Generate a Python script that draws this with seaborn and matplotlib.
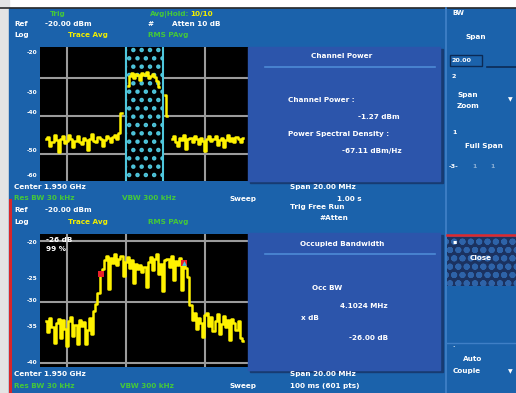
import numpy as np
import pandas as pd
import matplotlib
matplotlib.use("Agg")
import matplotlib.pyplot as plt
from matplotlib.patches import Rectangle
import seaborn as sns

nan = float("nan")

# ---------------------------------------------------------------------------
# Trace data: displayed level (dBm) per display bin, 100 bins across the span
# ---------------------------------------------------------------------------
ch_floor_low = [-46.2, -45.6, -47.9, -46.8, -45.1, -46.4, -49.6, -46.0, -45.3,
                -47.2, -46.6, -44.9, -46.1, -48.3, -46.7, -45.2, -46.9, -47.5,
                -45.8, -46.3, -49.1, -46.0, -44.8, -46.5, -47.0, -45.6, -46.2,
                -48.0, -46.4, -45.3, -45.9, -46.8, -45.5, -45.0, -46.1, -44.6]
ch_edge = [-39.2]
ch_band = [-32.0, -29.5, -28.6, -29.8, -28.9, -29.2, -30.4, -28.7, -29.1,
           -28.3, -30.0, -29.4, -28.8, -29.6, -30.8, -32.2]
ch_spur = [-34.5, -40.0]
ch_floor_high = [-46.0, -45.4, -46.8, -47.9, -45.9, -46.3, -45.1, -48.8, -46.2,
                 -45.7, -46.9, -45.3, -46.0, -47.4, -45.8, -46.5, -49.3, -46.1,
                 -45.2, -46.7, -46.0, -45.4, -47.6, -46.3, -45.9, -48.2, -46.4,
                 -45.1, -46.6, -45.8, -46.9, -45.5, -46.2, -47.0, -45.7]

obw_floor_low = [-33.2, -35.0, -32.6, -34.1, -36.8, -33.5, -32.8, -35.9, -33.0,
                 -34.4, -37.2, -33.1, -32.5, -35.6, -33.8, -36.9, -32.9, -34.0,
                 -33.3, -37.0, -34.6, -32.7, -35.2, -31.5]
obw_rise = [-30.3, -28.6]
obw_band = [-25.4, -24.6, -23.2, -22.5, -27.9, -22.8, -23.6, -22.1, -24.0,
            -23.0, -22.4, -25.8, -23.5, -22.7, -24.4, -23.1, -26.9, -23.8,
            -24.6, -23.9, -25.1, -24.2, -27.6, -23.4, -22.6, -24.8, -23.0,
            -22.2, -25.5, -23.7, -28.2, -23.1, -22.9, -24.3, -22.5, -26.4,
            -23.3, -24.0, -22.8, -28.0, -23.6, -24.5, -25.9]
obw_fall = [-30.5]
obw_floor_high = [-33.0, -31.9, -34.5, -32.6, -33.4, -35.8, -32.2, -31.8, -33.9,
                  -32.5, -34.8, -33.1, -32.0, -35.3, -33.6, -32.4, -34.1, -33.0,
                  -36.2, -32.8, -33.5, -34.7, -33.2, -35.9, -36.5]

channel_trace = ([nan] * 3 + ch_floor_low + ch_edge + [nan] * 2 + ch_band
                 + [nan] * 2 + ch_spur + [nan] + ch_floor_high + [nan] * 2)
obw_trace = ([nan] * 3 + obw_floor_low + obw_rise + obw_band + obw_fall
             + obw_floor_high + [nan] * 2)

obw_marker_bins = [29, 69]
channel_band = (41.1, 58.9)          # integration bandwidth, in display bins
graticule_x = [12.9, 41.1, 78.9]     # vertical graticule, in display bins
ch_graticule_y = [-30, -40, -50]
obw_graticule_y = [-20, -30, -40]
ch_ylim = (-57.2, -21.7)
obw_ylim = (-40.7, -18.85)

ch_scale_labels = ["-20", "-30", "-40", "-50", "-60"]
obw_scale_labels = ["-20", "-25", "-30", "-35", "-40"]

# ---------------------------------------------------------------------------
BG = "#1b62ab"
BOX = "#2c55ab"
SHADOW = "#173b72"
GREEN = "#45c83a"
YELLOW = "#f2ee00"
TRACE = "#fff200"
CYAN = "#4fc6dc"
GRID = "#9b9b9b"

W, H = 516, 393
plt.rcParams["hatch.linewidth"] = 2.0
fig = plt.figure(figsize=(W / 100, H / 100), dpi=100)
fig.patch.set_facecolor("white")


def fx(x):
    return x / W


def fy(y):
    return 1 - y / H


def rect(x0, y0, x1, y1, z=-5, **kw):
    fig.add_artist(Rectangle((fx(x0), fy(y1)), (x1 - x0) / W, (y1 - y0) / H,
                             transform=fig.transFigure, zorder=z, **kw))


def hline(x0, x1, y, color, lw=1.0, z=3):
    fig.add_artist(plt.Line2D([fx(x0), fx(x1)], [fy(y), fy(y)], color=color,
                              lw=lw, transform=fig.transFigure, zorder=z))


def vline(x, y0, y1, color, lw=1.0, z=3):
    fig.add_artist(plt.Line2D([fx(x), fx(x)], [fy(y0), fy(y1)], color=color,
                              lw=lw, transform=fig.transFigure, zorder=z))


def txt(x, y, s, color="white", size=5.2, ha="left", **kw):
    fig.text(fx(x), fy(y), s, color=color, fontsize=size, ha=ha, va="center",
             fontweight="bold", family="DejaVu Sans", zorder=6, **kw)


# screen frame
rect(0, 0, 9, H, z=-10, color="#e4e4e4")
rect(9, 8, W, H, z=-9, color=BG)
hline(0, W, 7.5, "#2a2a2a", lw=1.2, z=-8)
vline(10, 200, H, "#d8262a", lw=2.2, z=-8)

# soft-key column
vline(445.5, 8, H, "#3f7fc6", lw=1.3, z=-8)
hline(447, W, 235, "#e0282c", lw=1.8, z=-8)
rect(447, 237, W, 286, z=-8, facecolor="#1b3260", edgecolor="#2e63a8",
     hatch="oo", lw=0)
hline(447, W, 343, "#3f7fc6", lw=1.0, z=-8)


def trace_frame(values):
    df = pd.DataFrame({"bin": np.arange(len(values)), "level": values})
    df["segment"] = df["level"].isna().cumsum()
    return df.dropna()


def make_axes(y_top, y_bot, ylim, grid_y):
    ax = fig.add_axes([fx(40), fy(y_bot), (249 - 40) / W, (y_bot - y_top) / H])
    ax.set_facecolor("black")
    ax.set_xlim(0, 100)
    ax.set_ylim(*ylim)
    ax.set_xticks(graticule_x)
    ax.set_yticks(grid_y)
    ax.tick_params(length=0, labelleft=False, labelbottom=False)
    ax.grid(True, color=GRID, lw=1.5)
    ax.set_axisbelow(True)
    for s in ax.spines.values():
        s.set_visible(False)
    return ax


# channel power view
ax1 = make_axes(47, 181, ch_ylim, ch_graticule_y)
ax1.axvspan(*channel_band, facecolor="black", edgecolor=CYAN, hatch="..",
            lw=0, zorder=1.5)
for edge in channel_band:
    ax1.axvline(edge, color=CYAN, lw=1.5, zorder=1.8)
sns.lineplot(data=trace_frame(channel_trace), x="bin", y="level",
             units="segment", estimator=None, color=TRACE, lw=1.8,
             drawstyle="steps-mid", ax=ax1, legend=False, zorder=3)
ax1.set_xlabel("")
ax1.set_ylabel("")

# occupied bandwidth view
ax2 = make_axes(234, 367, obw_ylim, obw_graticule_y)
obw_df = trace_frame(obw_trace)
sns.lineplot(data=obw_df, x="bin", y="level", units="segment",
             estimator=None, color=TRACE, lw=1.8, drawstyle="steps-mid",
             ax=ax2, legend=False, zorder=3)
mk = pd.DataFrame({"bin": obw_marker_bins,
                   "level": [obw_trace[b] for b in obw_marker_bins]})
sns.scatterplot(data=mk, x="bin", y="level", marker="s", color="#e8202a",
                s=14, linewidth=0, ax=ax2, zorder=5, legend=False)
sns.scatterplot(data=mk.iloc[[1]], x="bin", y="level", marker="^",
                color=CYAN, s=12, linewidth=0, ax=ax2, zorder=6, legend=False)
ax2.set_xlabel("")
ax2.set_ylabel("")
ax2.text(0.03, 0.955, "-26 dB", transform=ax2.transAxes, color="white",
         fontsize=5.2, fontweight="bold", va="center")
ax2.text(0.03, 0.885, "99 %", transform=ax2.transAxes, color="white",
         fontsize=5.2, fontweight="bold", va="center")

# scale labels
for lab, y in zip(ch_scale_labels, [53, 92, 113, 150, 175]):
    txt(37, y, lab, size=4.2, ha="right")
for lab, y in zip(obw_scale_labels, [243, 278, 300, 327, 362]):
    txt(37, y, lab, size=4.2, ha="right")

# measurement result boxes
for (y0, y1) in [(47, 181), (233, 370)]:
    rect(250, y0 + 2, 443, y1 + 2, z=2, color=SHADOW)
    rect(248, y0, 440, y1, z=2.1, color=BOX)
    hline(265, 435, y0 + 20 if y0 == 47 else y0 + 21, "#4d8ad6", lw=1.2, z=2.2)

txt(342, 56, "Channel Power", ha="center")
txt(288, 100, "Channel Power :")
txt(400, 117, "-1.27 dBm", ha="right")
txt(288, 134, "Power Spectral Density :")
txt(402, 151, "-67.11 dBm/Hz", ha="right")

txt(342, 244, "Occupied Bandwidth", ha="center")
txt(312, 288, "Occ BW")
txt(388, 306, "4.1024 MHz", ha="right")
txt(301, 318, "x dB")
txt(388, 338, "-26.00 dB", ha="right")

# annotation rows
txt(50, 14, "Trig", GREEN)
txt(150, 14, "Avg|Hold:", GREEN)
txt(190, 14, "10/10", YELLOW)
txt(14, 24, "Ref")
txt(45, 24, "-20.00 dBm")
txt(148, 24, "#")
txt(172, 24, "Atten 10 dB")
txt(14, 35, "Log")
txt(68, 35, "Trace Avg", YELLOW)
txt(148, 35, "RMS PAvg", GREEN)

txt(14, 187, "Center 1.950 GHz")
txt(290, 187, "Span 20.00 MHz")
txt(14, 198, "Res BW 30 kHz", GREEN)
txt(122, 198, "VBW 300 kHz", GREEN)
txt(230, 199, "Sweep")
txt(337, 199, "1.00 s")
txt(290, 207, "Trig Free Run")
txt(320, 218, "#Atten")
txt(14, 210, "Ref")
txt(45, 210, "-20.00 dBm")
txt(14, 222, "Log")
txt(68, 222, "Trace Avg", YELLOW)
txt(148, 222, "RMS PAvg", GREEN)

txt(14, 374, "Center 1.950 GHz")
txt(290, 374, "Span 20.00 MHz")
txt(14, 386, "Res BW 30 kHz", GREEN)
txt(120, 386, "VBW 300 kHz", GREEN)
txt(230, 386, "Sweep")
txt(290, 386, "100 ms (601 pts)")

# soft keys
txt(452, 13, "BW", size=4.8)
txt(465, 37, "Span")
rect(450, 55, 482, 66, z=2, facecolor=BG, edgecolor="#0c2a55", lw=1)
txt(452, 60.5, "20.00", size=4.6)
hline(487, W, 67, "#0c2a55", lw=1.2)
txt(452, 77, "2", size=4.6)
txt(457, 95, "Span")
txt(457, 106, "Zoom")
txt(508, 100, "\u25bc", size=4.4)
txt(452, 132, "1", size=4.6)
txt(465, 146, "Full Span")
txt(449, 166, "-3-", size=4.6)
txt(472, 166, "1", size=4.4, alpha=0.5)
txt(490, 166, "1", size=4.4, alpha=0.5)
txt(452, 242, "\u25aa", size=4.6)
txt(470, 258, "Close")
txt(452, 347, "\u00b7", size=4.6)
txt(463, 359, "Auto")
txt(453, 371, "Couple")
txt(508, 372, "\u25bc", size=4.4)

fig.savefig("out.png", dpi=100, facecolor=fig.get_facecolor())
